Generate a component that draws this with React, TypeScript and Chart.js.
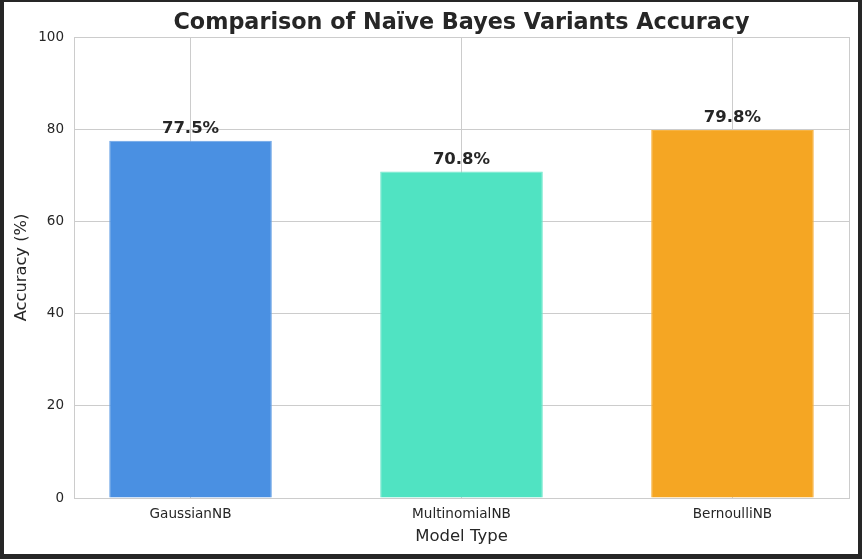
import React, { useEffect, useRef } from "react";
import { Chart, registerables } from "chart.js";

Chart.register(...registerables);

const titleText = "Comparison of Naïve Bayes Variants Accuracy";
const categories = ["GaussianNB", "MultinomialNB", "BernoulliNB"];
const accuracy = [77.5, 70.8, 79.8];
const barColors = ["#4a90e2", "#50e3c2", "#f5a623"];
const barEdges = ["#6aa3e6", "#6fe8cc", "#f6b446"];
const yTicks = [0, 20, 40, 60, 80, 100];

const FONT = "'DejaVu Sans', sans-serif";

const valueLabels = {
  id: "valueLabels",
  afterDatasetsDraw(chart: any) {
    const ctx = chart.ctx;
    const meta = chart.getDatasetMeta(0);
    ctx.save();
    ctx.font = `bold 16.5px ${FONT}`;
    ctx.fillStyle = "#262626";
    ctx.textAlign = "center";
    ctx.textBaseline = "alphabetic";
    meta.data.forEach((bar: any, i: number) => {
      ctx.fillText(accuracy[i].toFixed(1) + "%", bar.x, bar.y - 8);
    });
    ctx.restore();
  },
};

const axesTitle = {
  id: "axesTitle",
  afterDraw(chart: any) {
    const { ctx, chartArea: a } = chart;
    ctx.save();
    ctx.font = `bold 22.3px ${FONT}`;
    ctx.fillStyle = "#262626";
    ctx.textAlign = "center";
    ctx.textBaseline = "alphabetic";
    ctx.fillText(titleText, (a.left + a.right) / 2, 27);
    ctx.restore();
  },
};

const frame = {
  id: "frame",
  beforeDatasetsDraw(chart: any) {
    const { ctx, chartArea: a } = chart;
    ctx.save();
    ctx.strokeStyle = "#cccccc";
    ctx.lineWidth = 1;
    ctx.strokeRect(Math.round(a.left) + 0.5, Math.round(a.top) + 0.5, Math.round(a.right - a.left), Math.round(a.bottom - a.top));
    ctx.restore();
  },
};

export default function App() {
  const ref = useRef<HTMLCanvasElement | null>(null);
  useEffect(() => {
    const chart = new Chart(ref.current as HTMLCanvasElement, {
      type: "bar",
      data: {
        datasets: [
          {
            data: categories.map((c, i) => ({ x: i, y: accuracy[i] })) as any,
            backgroundColor: barColors,
            borderColor: barEdges,
            borderWidth: 1,
            categoryPercentage: 1,
            barPercentage: 0.6,
          },
        ],
      },
      options: {
        animation: false,
        responsive: false,
        layout: { padding: { left: 0, right: 9, top: 35, bottom: 0 } },
        plugins: {
          legend: { display: false },
          tooltip: { enabled: false },
          title: { display: false },
        },
        scales: {
          x: {
            type: "linear",
            offset: false,
            min: -0.43,
            max: 2.43,
            afterBuildTicks: (s: any) => {
              s.ticks = categories.map((_, i) => ({ value: i }));
            },
            afterFit: (s: any) => {
              s.height = 56;
            },
            ticks: {
              color: "#262626",
              font: { family: FONT, size: 13.6 },
              padding: 8,
              maxRotation: 0,
              autoSkip: false,
              callback: (v: any) => categories[v] ?? "",
            },
            grid: { color: "#cccccc", drawTicks: false, offset: false },
            border: { color: "#cccccc" },
            title: {
              display: true,
              text: "Model Type",
              color: "#262626",
              font: { family: FONT, size: 16.5 },
              padding: { top: 0, bottom: 7 },
            },
          },
          y: {
            min: 0,
            max: 100,
            afterBuildTicks: (s: any) => {
              s.ticks = yTicks.map((v) => ({ value: v }));
            },
            afterFit: (s: any) => {
              s.width = 70;
            },
            ticks: {
              color: "#262626",
              font: { family: FONT, size: 13.5 },
              padding: 10,
            },
            grid: { color: "#cccccc", drawTicks: false },
            border: { color: "#cccccc" },
            title: {
              display: true,
              text: "Accuracy (%)",
              color: "#262626",
              font: { family: FONT, size: 16.3 },
              padding: { top: 8, bottom: 0 },
            },
          },
        },
      },
      plugins: [frame, valueLabels, axesTitle],
    } as any);
    return () => chart.destroy();
  }, []);

  return (
    <div style={{ position: "fixed", left: 0, top: 0, width: 862, height: 559, background: "#262626" }}>
      <div style={{ position: "absolute", left: 4, top: 2, width: 854, height: 552, background: "#ffffff" }}>
        <canvas ref={ref} width={854} height={552} style={{ display: "block", width: 854, height: 552 }} />
      </div>
    </div>
  );
}
